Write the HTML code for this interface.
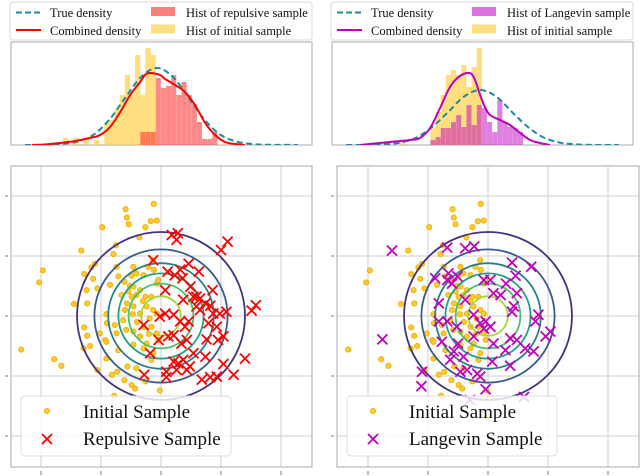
<!DOCTYPE html>
<html><head><meta charset="utf-8"><style>
html,body{margin:0;padding:0;background:#fff;}
svg{display:block;font-family:"Liberation Serif",serif;}
</style></head><body>
<svg id="fig" width="640" height="476" viewBox="0 0 640 476" xmlns="http://www.w3.org/2000/svg">
<defs>
<clipPath id="clipL"><rect x="11" y="166" width="301" height="301"/></clipPath>
<clipPath id="clipR"><rect x="337" y="166" width="302" height="301"/></clipPath>
<clipPath id="hclipL"><rect x="11" y="42" width="301" height="103"/></clipPath>
<clipPath id="hclipR"><rect x="332" y="42" width="301" height="103"/></clipPath>
</defs>
<g id="root"></g>
</svg>
<script>
// ---------- histogram data ----------
const binStart = -3.27;
const binWidth = 0.171;
const histInitLeft = [7,0,7,0,7,0,5,0,22,25,36,50,70,52,90,50,97,90,0];
const histRepulsive = [0,0,0,0,0,0,0,0,0,0,0,0,0,0,0,13,13,13,67,57,59,70,50,63,50,41,23,6,6,13];
const histInitRight = [4,0,0,4,0,0,0,0,0,17,33,50,70,75,70,80,58,78,97];
const histLangevin = [0,0,0,0,0,0,0,0,0,5,8,17,17,23,30,18,40,20,40,37,23,13,45,23,18,17,13];
// true density samples
const trueXLeft = [-4.53,-4.12,-3.65,-3.33,-2.80,-2.27,-1.74,-1.21,-0.68,-0.15,0.38,0.91,1.44,1.97,2.50,3.03,3.56,4.09,4.53];
const trueYLeft = [0,0.1,0.2,0.9,3.4,10,25,47,68,77,68,47,25,10,3.4,0.9,0.2,0.1,0];
const trueXRight = [-4.53,-4.05,-3.58,-3.26,-2.73,-2.20,-1.67,-1.14,-0.61,-0.08,0.45,0.98,1.51,2.04,2.57,3.10,3.63,4.16,4.53];
const trueYRight = [0,0.05,0.1,0.6,2.4,7.4,18,33,48.5,55,48.5,33,18,7.4,2.4,0.6,0.1,0.05,0];
// combined densities
const combXLeft = [-4.3,-3.87,-3.37,-2.87,-2.38,-2.04,-1.71,-1.37,-1.04,-0.71,-0.55,-0.38,-0.05,0.12,0.45,0.78,1.11,1.45,1.78,2.11,2.44,2.77];
const combYLeft = [0,0.5,2,4,7,10,18,33,50,63,70,72,70,66,60,53,40,22,10,3,1,0];
const combXRight = [-4.07,-3.74,-3.41,-3.07,-2.74,-2.41,-2.08,-1.74,-1.41,-1.08,-0.75,-0.42,-0.25,-0.08,0.08,0.25,0.58,0.91,1.25,1.58,1.91,2.24];
const combYRight = [0,1,2,3,4,5,7,17,37,58,69,72,65,50,38,30,25,20,12,5,2,0];

// ---------- scatter data ----------
const initX = [-0.12,-0.59,-0.57,-0.54,-0.98,-0.17,-0.07,-0.26,-0.36,-0.75,-1.33,-0.79,-1.1,-1.16,-1.97,-2.03,-1.28,-1.13,-1.06,-1.24,-1.45,-1.23,-0.74,-0.71,-0.85,-0.61,-0.49,-0.41,-0.29,-0.13,-0.21,-0.12,-0.46,-0.35,-0.41,-0.26,-0.16,-0.07,-0.49,-0.57,-0.46,-0.35,-0.24,-0.13,-0.19,-0.47,-0.63,-0.91,-0.9,-0.77,-1.28,-1.23,-0.93,-0.91,-1.18,-0.74,-0.58,-0.46,-0.29,-0.16,-0.07,-0.35,-0.24,-0.29,-0.13,-0.46,-0.71,-0.91,-0.56,-0.41,-1.06,-0.82,-0.73,-0.61,-0.26,-0.49,-0.43,-0.02,-0.78,-2.33,-1.78,-1.66,-1.29,-0.16,-0.04,-0.07,-0.46,-0.54,-0.66,-1.02,-0.3,-0.52,-0.2,-0.4,-0.6,-0.05,-0.02];
const initY = [1.87,1.78,1.64,1.53,1.48,1.58,1.59,1.48,1.31,1.18,1.09,1.03,0.87,0.81,0.76,0.56,0.7,0.62,0.46,0.43,0.2,0.21,0.82,0.66,0.52,0.57,0.67,0.71,0.68,0.93,0.82,0.77,0.49,0.43,0.35,0.32,0.32,0.54,0.32,0.21,0.16,0.04,0.16,0.1,-0.04,0.03,-0.07,0.03,-0.12,-0.15,-0.19,-0.33,-0.4,-0.43,-0.5,-0.29,-0.23,-0.26,-0.18,-0.18,-0.29,-0.34,-0.46,-0.54,-0.62,-0.48,-0.57,-0.71,-0.84,-0.87,-0.9,-0.98,-0.93,-1.07,-1.09,-1.15,-1.21,-1.24,-1.33,-0.56,-0.72,-0.83,-0.54,-0.73,-0.4,0.04,0.82,0.41,0.35,-0.29,0.25,0.5,-0.3,-0.1,0.1,0.6,-1.68];
const repX = [0.18,0.28,0.26,1.11,1.0,-0.13,0.46,0.32,0.11,0.23,0.63,0.36,0.49,0.86,0.07,0.54,0.65,0.74,0.82,0.59,0.65,0.87,0.98,1.09,1.58,1.51,0.07,0.21,-0.02,0.32,0.46,0.79,0.93,0.4,-0.29,0.76,0.95,1.04,0.43,-0.04,0.12,0.21,0.34,-0.18,0.54,0.74,0.37,0.21,0.29,0.48,0.43,1.04,1.4,0.09,0.26,-0.28,0.09,0.68,0.82,0.93,1.21,0.59,0.37];
const repY = [1.35,1.38,1.27,1.24,1.1,0.93,0.87,0.77,0.74,0.68,0.74,0.63,0.49,0.43,0.43,0.32,0.29,0.21,0.17,0.16,0.1,0.04,0.04,0.07,0.18,0.09,0.04,0.02,-0.01,-0.09,-0.09,-0.12,-0.18,-0.18,-0.15,-0.39,-0.4,-0.34,-0.4,-0.4,-0.34,-0.32,-0.46,-0.62,-0.62,-0.68,-0.73,-0.76,-0.79,-0.84,-0.9,-0.8,-0.71,-0.93,-0.9,-0.98,-1.02,-1.06,-1.02,-1.01,-0.98,0.32,0.27];
const lanX = [-1.6,-0.68,-0.38,-0.23,0.4,0.72,0.46,-0.88,-0.66,-0.68,-0.6,-0.51,-0.07,0.04,0.3,0.48,0.09,0.21,-0.38,-0.82,0.43,0.4,-0.24,-0.13,-0.04,0.04,-0.07,-0.82,-0.68,-0.52,0.84,0.79,1.04,0.96,-1.76,-0.24,-0.77,-0.5,0.37,0.48,0.62,0.76,0.09,0.29,-0.57,-0.41,-0.63,0.07,-0.35,-0.18,0.37,-1.1,-1.11,-0.13,-0.04,-0.46,-0.3,0.6];
const lanY = [1.09,1.14,1.13,1.16,0.89,0.82,0.67,0.63,0.71,0.6,0.54,0.66,0.6,0.6,0.54,0.38,0.38,0.35,0.27,0.21,0.16,0.07,0.02,-0.12,-0.09,-0.18,-0.21,-0.09,-0.09,-0.18,0.02,-0.09,-0.26,-0.34,-0.39,-0.34,-0.43,-0.46,-0.37,-0.4,-0.54,-0.59,-0.46,-0.57,-0.59,-0.68,-0.73,-0.76,-0.9,-0.96,-0.83,-0.93,-1.17,-1.01,-1.22,-0.93,-1.4,-1.35];
// contour radii (levels) and colours
const contourR = [1.4,1.11,0.88,0.71,0.54,0.33];
const contourColors = ["#46327e","#365c8d","#277f8e","#1fa187","#4ac16d","#a0da39"];
const gridTicks = [-2,-1,0,1,2];

const NS = "http://www.w3.org/2000/svg";
const root = document.getElementById('root');
function mk(tag, attrs, parent) {
  const e = document.createElementNS(NS, tag);
  for (const k in attrs) e.setAttribute(k, attrs[k]);
  (parent || root).appendChild(e);
  return e;
}
function smooth(pts) {
  let d = "M" + pts[0][0].toFixed(2) + "," + pts[0][1].toFixed(2);
  for (let i = 0; i < pts.length - 1; i++) {
    const p0 = pts[Math.max(0, i - 1)], p1 = pts[i], p2 = pts[i + 1], p3 = pts[Math.min(pts.length - 1, i + 2)];
    const c1x = p1[0] + (p2[0] - p0[0]) / 6, c1y = p1[1] + (p2[1] - p0[1]) / 6;
    const c2x = p2[0] - (p3[0] - p1[0]) / 6, c2y = p2[1] - (p3[1] - p1[1]) / 6;
    d += " C" + c1x.toFixed(2) + "," + c1y.toFixed(2) + " " + c2x.toFixed(2) + "," + c2y.toFixed(2) + " " + p2[0].toFixed(2) + "," + p2[1].toFixed(2);
  }
  return d;
}

function histPanel(ox, initH, otherH, otherColor, combX, combY, combColor, trueX, trueY, clip, pname) {
  const g = mk('g', {});
  
  
  const x = u => ox + (u + 5) * 30.1;
  const y = v => 145 - v;
  const frame = mk('rect', {x: ox, y: 42, width: 301, height: 103, fill: '#fff', stroke: '#b8b8b8', 'stroke-width': 1.2}, g);
  
  
  const bg = mk('g', {'clip-path': 'url(#' + clip + ')'}, g);
  initH.forEach((h, i) => {
    if (!h) return;
    const r = mk('rect', {x: x(binStart + i * binWidth), y: y(h), width: binWidth * 30.1, height: h, fill: 'rgba(255,190,0,0.5)', stroke: 'rgba(255,230,160,0.6)', 'stroke-width': 0.3}, bg);
    
    
  });
  otherH.forEach((h, i) => {
    if (!h) return;
    const r = mk('rect', {x: x(binStart + i * binWidth), y: y(h), width: binWidth * 30.1, height: h, fill: otherColor, stroke: 'rgba(255,255,255,0.25)', 'stroke-width': 0.3}, bg);
    
    
  });
  const tp = mk('path', {d: smooth(trueX.map((u, i) => [x(u), y(trueY[i])])), fill: 'none', stroke: '#1f8a9c', 'stroke-width': 2, 'stroke-dasharray': '6,3.5'}, bg);
  
  
  const cp = mk('path', {d: smooth(combX.map((u, i) => [x(u), y(combY[i])])), fill: 'none', stroke: combColor, 'stroke-width': 2}, bg);
  
  
}

function topLegend(ox, color, patch, label, pname) {
  const g = mk('g', {});
  
  
  mk('rect', {x: ox - 1, y: 2, width: 302, height: 38, rx: 3, fill: 'rgba(255,255,255,0.9)', stroke: '#d8d8d8', 'stroke-width': 1}, g);
  mk('line', {x1: ox + 5, y1: 12.5, x2: ox + 30, y2: 12.5, stroke: '#1f8a9c', 'stroke-width': 2, 'stroke-dasharray': '6,3'}, g);
  let t = mk('text', {x: ox + 39, y: 17, 'font-size': 12.5, fill: '#111'}, g); t.textContent = 'True density';
  mk('line', {x1: ox + 5, y1: 30, x2: ox + 30, y2: 30, stroke: color, 'stroke-width': 2}, g);
  t = mk('text', {x: ox + 39, y: 35, 'font-size': 12.5, fill: '#111'}, g); t.textContent = 'Combined density';
  mk('rect', {x: ox + 140, y: 7, width: 24, height: 9, fill: patch}, g);
  t = mk('text', {x: ox + 175, y: 17, 'font-size': 12.5, fill: '#111'}, g); t.textContent = label;
  mk('rect', {x: ox + 140, y: 24.5, width: 24, height: 9, fill: 'rgba(255,190,0,0.5)'}, g);
  t = mk('text', {x: ox + 175, y: 35, 'font-size': 12.5, fill: '#111'}, g); t.textContent = 'Hist of initial sample';
}

function scatterPanel(ox, cx, otherX, otherY, xColor, label, clip, pname) {
  const g = mk('g', {});
  
  
  const sx = u => cx + u * 60;
  const sy = v => 316 - v * 60;
  const w = (ox === 11) ? 301 : 302;
  mk('rect', {x: ox, y: 166, width: w, height: 301, fill: '#fff'}, g);
  gridTicks.forEach(t => {
    mk('line', {x1: sx(t), y1: 166, x2: sx(t), y2: 467, stroke: '#cfcfcf', 'stroke-width': 1}, g);
    mk('line', {x1: ox, y1: sy(t), x2: ox + w, y2: sy(t), stroke: '#cfcfcf', 'stroke-width': 1}, g);
    mk('line', {x1: sx(t), y1: 471, x2: sx(t), y2: 475, stroke: '#555', 'stroke-width': 0.8}, g);
    mk('line', {x1: ox - 6, y1: sy(t), x2: ox - 3, y2: sy(t), stroke: '#555', 'stroke-width': 0.8}, g);
  });
  const fr = mk('rect', {x: ox, y: 166, width: w, height: 301, fill: 'none', stroke: '#b8b8b8', 'stroke-width': 1.2}, g);
  
  
  const cg = mk('g', {'clip-path': 'url(#' + clip + ')'}, g);
  initX.forEach((u, i) => {
    const c = mk('circle', {cx: sx(u), cy: sy(initY[i]), r: 2.6, fill: '#ffcb2e', stroke: '#f2ad00', 'stroke-width': 0.9}, cg);
    
    
  });
  contourR.forEach((r, i) => {
    const c = mk('circle', {cx: sx(0), cy: sy(0), r: r * 60, fill: 'none', stroke: contourColors[i], 'stroke-width': 1.8}, cg);
    
    
  });
  otherX.forEach((u, i) => {
    const px = sx(u), py = sy(otherY[i]), s = 5;
    const p = mk('path', {d: `M${px - s},${py - s}L${px + s},${py + s}M${px - s},${py + s}L${px + s},${py - s}`, stroke: xColor, 'stroke-width': 1.8, fill: 'none'}, cg);
    
    
  });
  const lg = mk('g', {}, g);
  
  
  const lx = ox + 10;
  mk('rect', {x: lx, y: 396, width: 210, height: 60, rx: 4, fill: 'rgba(255,255,255,0.82)', stroke: '#dcdcdc', 'stroke-width': 1}, lg);
  mk('circle', {cx: lx + 26, cy: 411, r: 2.6, fill: '#ffcb2e', stroke: '#f2ad00', 'stroke-width': 0.9}, lg);
  let t = mk('text', {x: lx + 62, y: 418, 'font-size': 19, fill: '#111'}, lg); t.textContent = 'Initial Sample';
  const mx = lx + 26, my = 439;
  mk('path', {d: `M${mx - 5},${my - 5}L${mx + 5},${my + 5}M${mx - 5},${my + 5}L${mx + 5},${my - 5}`, stroke: xColor, 'stroke-width': 1.8}, lg);
  t = mk('text', {x: lx + 62, y: 445, 'font-size': 19, fill: '#111'}, lg); t.textContent = label;
}

topLegend(11, '#ff0000', 'rgba(255,0,0,0.5)', 'Hist of repulsive sample', 'left');
topLegend(332, '#bf00bf', 'rgba(191,0,191,0.55)', 'Hist of Langevin sample', 'right');
histPanel(11, histInitLeft, histRepulsive, 'rgba(255,40,40,0.55)', combXLeft, combYLeft, '#ff0000', trueXLeft, trueYLeft, 'hclipL', 'repulsive');
histPanel(332, histInitRight, histLangevin, 'rgba(191,0,191,0.5)', combXRight, combYRight, '#bf00bf', trueXRight, trueYRight, 'hclipR', 'langevin');
scatterPanel(11, 161, repX, repY, '#ff0000', 'Repulsive Sample', 'clipL', 'repulsive');
scatterPanel(337, 488, lanX, lanY, '#bf00bf', 'Langevin Sample', 'clipR', 'langevin');
</script>
</body></html>
